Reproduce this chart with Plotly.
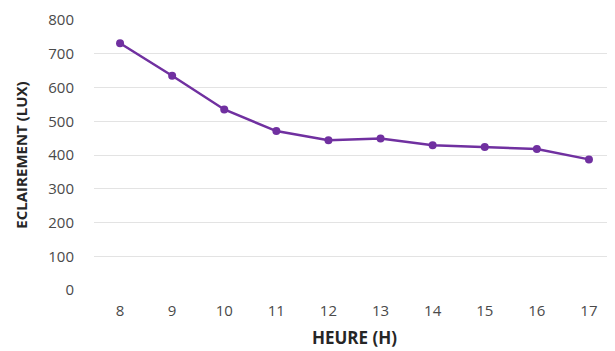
import plotly.graph_objects as go

heures = ["8", "9", "10", "11", "12", "13", "14", "15", "16", "17"]
eclairement = [731, 635, 535, 471, 444, 449, 429, 424, 418, 387]

PURPLE = "#7030A0"
FONT = "Open Sans"

fig = go.Figure(go.Scatter(
    x=heures, y=eclairement,
    mode="lines+markers",
    line=dict(color=PURPLE, width=2.5),
    marker=dict(color=PURPLE, size=8),
    showlegend=False,
))

# page body adds an 8px offset, so the figure is sized to fit what is left
fig.update_layout(
    width=607, height=343,
    margin=dict(l=86, r=0, t=12, b=61),
    paper_bgcolor="white",
    plot_bgcolor="white",
    font=dict(family=FONT, size=15, color="#4a4a4a"),
    xaxis=dict(
        type="category", automargin=False,
        range=[-0.5, len(heures) - 0.5],
        showgrid=False, zeroline=False, showline=False,
        ticks="", ticklabelstandoff=10,
        title=dict(text="<b>HEURE (H)</b>", standoff=13,
                   font=dict(family=FONT, size=17, color="#262626")),
    ),
    yaxis=dict(
        range=[0, 800], dtick=100, automargin=False,
        showgrid=True, gridcolor="#E3E3E3", gridwidth=1,
        zeroline=False, showline=False,
        ticks="", ticklabelstandoff=19,
        title=dict(text="<b>ECLAIREMENT (LUX)</b>", standoff=17,
                   font=dict(family=FONT, size=15, color="#262626")),
    ),
)

fig.write_html("out.html")
